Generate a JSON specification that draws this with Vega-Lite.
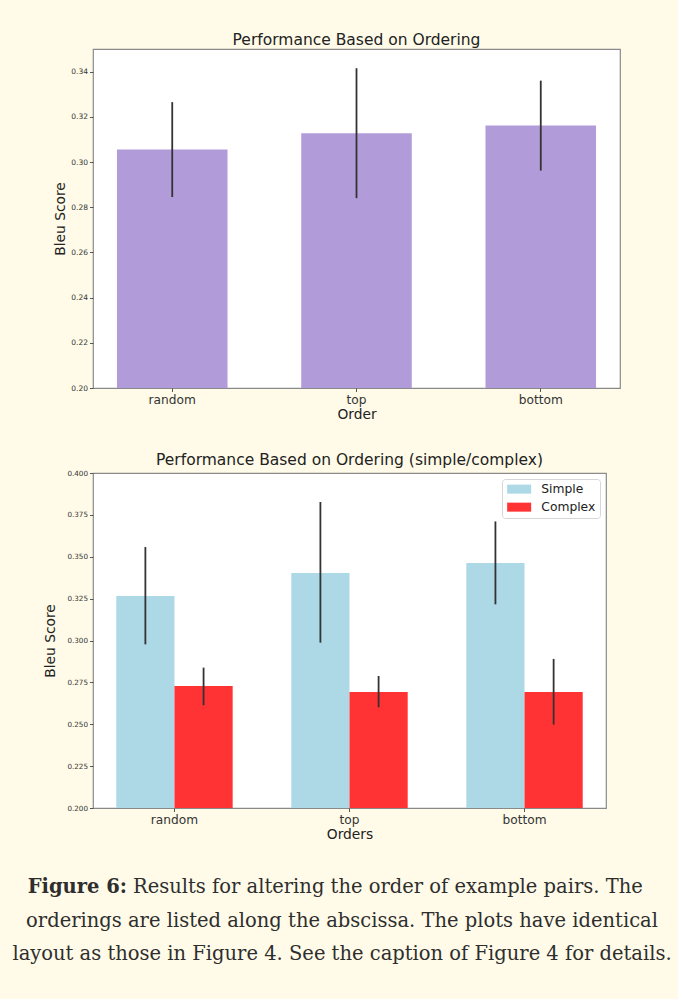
{
  "$schema": "https://vega.github.io/schema/vega-lite/v6.json",
  "background": "#fffbe8",
  "padding": {"left": 12, "top": 31, "right": 40, "bottom": 45},
  "bounds": "flush",
  "spacing": 85,
  "resolve": {"scale": {"color": "independent"}, "legend": {"color": "independent"}},
  "datasets": {
    "top": [
      {"order": "random", "score": 0.3055, "lo": 0.2845, "hi": 0.3265},
      {"order": "top", "score": 0.3127, "lo": 0.284, "hi": 0.3415},
      {"order": "bottom", "score": 0.3161, "lo": 0.2962, "hi": 0.336}
    ],
    "bottom": [
      {"order": "random", "type": "Simple", "score": 0.3266, "lo": 0.2977, "hi": 0.3558},
      {"order": "random", "type": "Complex", "score": 0.2728, "lo": 0.2613, "hi": 0.2838},
      {"order": "top", "type": "Simple", "score": 0.3403, "lo": 0.2987, "hi": 0.3827},
      {"order": "top", "type": "Complex", "score": 0.2693, "lo": 0.2601, "hi": 0.2788},
      {"order": "bottom", "type": "Simple", "score": 0.3463, "lo": 0.3216, "hi": 0.3711},
      {"order": "bottom", "type": "Complex", "score": 0.2693, "lo": 0.2498, "hi": 0.289}
    ],
    "caption": [
      {"line": 1, "seg": "bold", "text": "Figure 6:"},
      {"line": 1, "seg": "rest", "text": "Results for altering the order of example pairs. The"},
      {"line": 2, "seg": "full", "text": "orderings are listed along the abscissa. The plots have identical"},
      {"line": 3, "seg": "full", "text": "layout as those in Figure 4. See the caption of Figure 4 for details."}
    ]
  },
  "vconcat": [
    {
      "width": 527,
      "height": 339,
      "data": {"name": "top"},
      "title": {"text": "Performance Based on Ordering"},
      "encoding": {
        "x": {
          "field": "order", "type": "nominal", "sort": ["random", "top", "bottom"],
          "scale": {"paddingInner": 0.4, "paddingOuter": 0.13},
          "axis": {"title": "Order", "labelAngle": 0, "labelFontSize": 12.2, "titlePadding": 2}
        }
      },
      "layer": [
        {
          "mark": {"type": "bar", "color": "#b19cd9"},
          "encoding": {
            "y": {
              "field": "score", "type": "quantitative",
              "scale": {"domain": [0.2, 0.35], "zero": false, "nice": false},
              "axis": {"title": "Bleu Score", "values": [0.2, 0.22, 0.24, 0.26, 0.28, 0.3, 0.32, 0.34], "format": ".2f", "labelFontSize": 7.5, "titlePadding": 3}
            },
            "y2": {"datum": 0.2}
          }
        },
        {
          "mark": {"type": "rule", "color": "#333333", "strokeWidth": 1.8},
          "encoding": {
            "y": {"field": "lo", "type": "quantitative"},
            "y2": {"field": "hi"}
          }
        }
      ]
    },
    {
      "width": 513,
      "height": 335,
      "data": {"name": "bottom"},
      "title": {"text": "Performance Based on Ordering (simple/complex)"},
      "encoding": {
        "x": {
          "field": "order", "type": "nominal", "sort": ["random", "top", "bottom"],
          "scale": {"paddingInner": 0.335, "paddingOuter": 0.133},
          "axis": {"title": "Orders", "labelAngle": 0, "labelFontSize": 12.2, "titlePadding": 2}
        },
        "xOffset": {
          "field": "type", "type": "nominal",
          "scale": {"domain": ["Simple", "Complex"], "paddingInner": 0, "paddingOuter": 0}
        }
      },
      "layer": [
        {
          "mark": {"type": "bar"},
          "encoding": {
            "y": {
              "field": "score", "type": "quantitative",
              "scale": {"domain": [0.2, 0.4], "zero": false, "nice": false},
              "axis": {"title": "Bleu Score", "values": [0.2, 0.225, 0.25, 0.275, 0.3, 0.325, 0.35, 0.375, 0.4], "format": ".3f", "labelFontSize": 7.2, "titlePadding": 9}
            },
            "y2": {"datum": 0.2},
            "color": {
              "field": "type", "type": "nominal",
              "scale": {"domain": ["Simple", "Complex"], "range": ["#add8e6", "#ff3333"]},
              "legend": {
                "title": null, "orient": "top-right", "offset": 6, "padding": 4,
                "fillColor": "white", "strokeColor": "#d6d6d6", "cornerRadius": 3,
                "symbolType": "M-2,-0.75H2V0.75H-2Z", "symbolSize": 144,
                "symbolOffset": 7, "symbolStrokeWidth": 0, "symbolOpacity": 1,
                "labelOffset": 16, "labelFont": "DejaVu Sans", "labelFontSize": 12.3,
                "labelColor": "#222", "rowPadding": 5
              }
            }
          }
        },
        {
          "mark": {"type": "rule", "color": "#333333", "strokeWidth": 1.8},
          "encoding": {
            "y": {"field": "lo", "type": "quantitative"},
            "y2": {"field": "hi"}
          }
        }
      ]
    },
    {
      "width": 498,
      "height": 67,
      "view": {"stroke": null, "fill": null},
      "data": {"name": "caption"},
      "encoding": {
        "y": {"field": "line", "type": "ordinal", "axis": null, "scale": {"type": "point", "padding": 0}},
        "text": {"field": "text"}
      },
      "layer": [
        {
          "transform": [{"filter": "datum.seg === 'full'"}],
          "mark": {"type": "text", "font": "DejaVu Serif", "fontSize": 19.5, "align": "center", "baseline": "alphabetic", "color": "#2e2e2e"}
        },
        {
          "transform": [{"filter": "datum.seg === 'bold'"}],
          "mark": {"type": "text", "font": "DejaVu Serif", "fontSize": 19.5, "fontWeight": "bold", "align": "right", "baseline": "alphabetic", "color": "#2e2e2e", "dx": -215}
        },
        {
          "transform": [{"filter": "datum.seg === 'rest'"}],
          "mark": {"type": "text", "font": "DejaVu Serif", "fontSize": 19.5, "align": "left", "baseline": "alphabetic", "color": "#2e2e2e", "dx": -209}
        }
      ]
    }
  ],
  "config": {
    "view": {"stroke": "#8a8a8a", "strokeWidth": 1.2, "fill": "white"},
    "axis": {
      "grid": false, "domain": false, "tickColor": "#555555", "tickSize": 3.5,
      "labelFont": "DejaVu Sans", "titleFont": "DejaVu Sans", "labelColor": "#333333",
      "titleColor": "#222222", "titleFontWeight": "normal", "titleFontSize": 13.8, "labelPadding": 2
    },
    "title": {"font": "DejaVu Sans", "fontSize": 15.5, "fontWeight": "normal", "color": "#222222", "offset": 1, "anchor": "middle", "frame": "group"}
  }
}
